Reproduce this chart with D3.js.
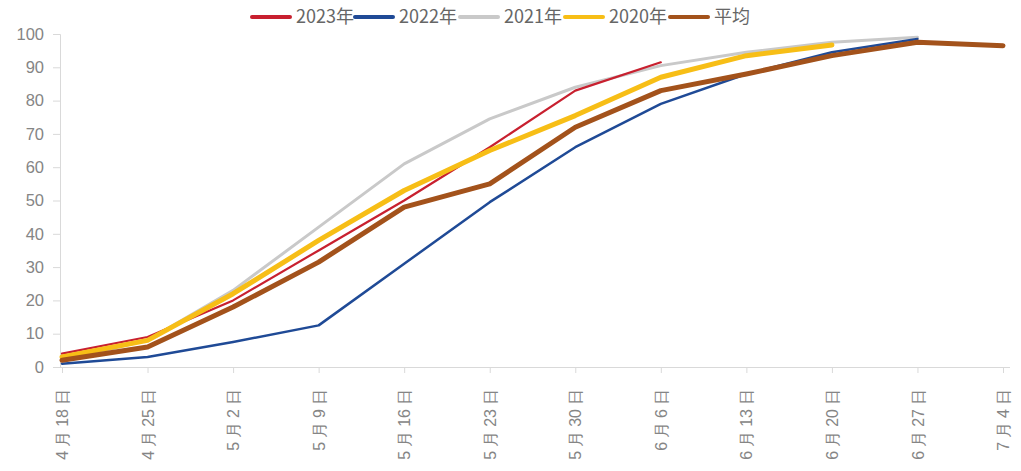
<!DOCTYPE html>
<html>
<head>
<meta charset="utf-8">
<script src="https://cdn.jsdelivr.net/npm/d3@7"></script>
<style>
  html, body { margin: 0; padding: 0; background: #fff; }
  svg { display: block; font-family: "Noto Sans CJK SC", "Liberation Sans", sans-serif; }
</style>
</head>
<body>
<svg id="chart" width="1021" height="471"></svg>
<script>
// Weekly dates (x categories)
const dates = ["4月18日", "4月25日", "5月2日", "5月9日", "5月16日", "5月23日",
               "5月30日", "6月6日", "6月13日", "6月20日", "6月27日", "7月4日"];

// Cumulative progress (%) per year; null = no data yet
const y2023 = [4, 9, 20, 35, 50, 66, 83, 91.5, null, null, null, null];
const y2022 = [1, 3, 7.5, 12.5, 31, 49.5, 66, 79, 88, 94.5, 98.5, null];
const y2021 = [2, 8, 23, 42, 61, 74.5, 84, 90.5, 94.5, 97.5, 99, null];
const y2020 = [3, 8, 22, 38, 53, 65, 75.5, 87, 93.5, 96.7, null, null];
const yAvg  = [2, 6, 18, 31.5, 48, 55, 72, 83, 88, 93.5, 97.5, 96.5];

const yTicks = [0, 10, 20, 30, 40, 50, 60, 70, 80, 90, 100];

const series = [
  { name: "2023年", values: y2023, color: "#c8202f", width: 2.2 },
  { name: "2022年", values: y2022, color: "#1f4a96", width: 2.5 },
  { name: "2021年", values: y2021, color: "#c9c9c9", width: 3 },
  { name: "2020年", values: y2020, color: "#f7be16", width: 5 },
  { name: "平均",   values: yAvg,  color: "#a3521b", width: 5 }
];

const svg = d3.select("#chart");

const x = d3.scalePoint().domain(dates).range([62, 1003]);
const y = d3.scaleLinear().domain([0, 100]).range([367, 34]);

const axisColor = "#d9d9d9";
const textColor = "#858585";

// Y axis
const yAxis = svg.append("g")
  .attr("transform", "translate(60,0)")
  .call(d3.axisLeft(y).tickValues(yTicks).tickSize(7).tickPadding(9));
yAxis.select(".domain").attr("stroke", axisColor);
yAxis.selectAll(".tick line").attr("stroke", axisColor);
yAxis.selectAll(".tick text")
  .attr("fill", textColor)
  .style("font-size", "16.5px")
  .style("font-family", "'Liberation Sans', sans-serif");

// X axis: date labels set vertically, with a little air around 月 and 日
const spaced = d => d.replace("月", "\u2005月\u2005").replace("日", "\u2005日");
const xAxis = svg.append("g")
  .attr("transform", "translate(0,367)")
  .call(d3.axisBottom(x).tickSize(6).tickSizeOuter(0).tickFormat(spaced));
xAxis.select(".domain")
  .attr("stroke", axisColor)
  .attr("d", "M60,0.5H1010");
xAxis.selectAll(".tick line").attr("stroke", axisColor);
xAxis.selectAll(".tick text")
  .attr("fill", textColor)
  .style("font-size", "16px")
  .attr("text-anchor", "end")
  .attr("dy", "0.35em")
  .attr("transform", "translate(0,22) rotate(-90)")
  .attr("x", 0)
  .attr("y", 0);

// Lines
const line = d3.line()
  .defined(d => d.v !== null)
  .x(d => x(d.date))
  .y(d => y(d.v));

const order = ["2021年", "2022年", "2023年", "2020年", "平均"];
order.forEach(n => {
  const s = series.find(t => t.name === n);
  svg.append("path")
    .datum(dates.map((date, i) => ({ date, v: s.values[i] })))
    .attr("fill", "none")
    .attr("stroke", s.color)
    .attr("stroke-width", s.width)
    .attr("stroke-linejoin", "round")
    .attr("stroke-linecap", "round")
    .attr("d", line);
});

// Legend
const legendX = [252, 355, 460, 565, 670];
const legend = svg.append("g");
series.forEach((s, i) => {
  const g = legend.append("g").attr("transform", `translate(${legendX[i]},17)`);
  g.append("line")
    .attr("x1", 0).attr("x2", 38)
    .attr("stroke", s.color)
    .attr("stroke-width", 4)
    .attr("stroke-linecap", "round");
  g.append("text")
    .attr("x", 44)
    .attr("dy", "0.35em")
    .attr("fill", "#666")
    .style("font-size", "18px")
    .text(s.name);
});
</script>
</body>
</html>
